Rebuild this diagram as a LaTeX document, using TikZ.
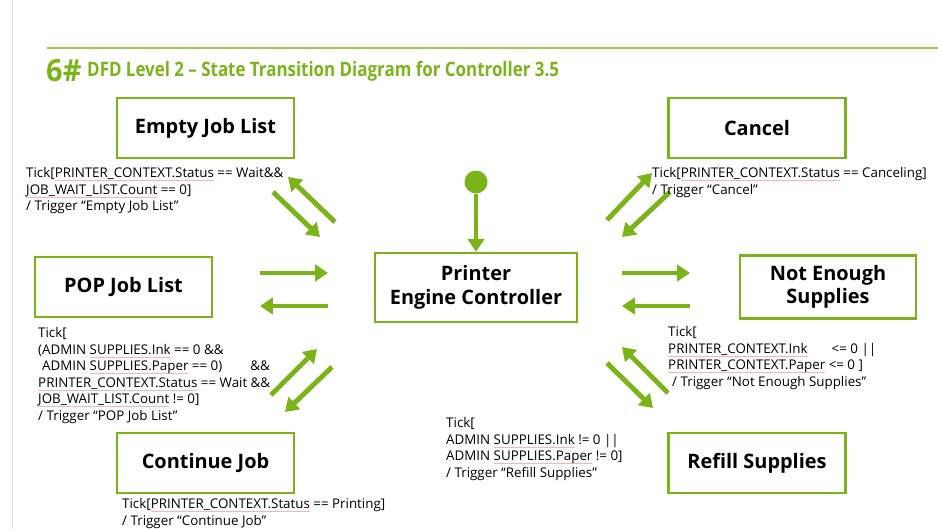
\documentclass[tikz,border=0pt]{standalone}
\usepackage{fontspec}
\setmainfont{Open Sans}[BoldFont={Open Sans Bold}]
\usepackage{graphicx}
\usetikzlibrary{arrows.meta,shapes}
\definecolor{dfdgreen}{RGB}{122,180,24}
% red spell-check line under a word
\newsavebox{\splbox}
\newcommand{\spl}[1]{\sbox{\splbox}{#1}\rlap{\textcolor{red!30}{\rule[-0.42ex]{\wd\splbox}{0.4pt}}}\usebox{\splbox}}

\tikzset{
  statebox/.style={draw=dfdgreen,line width=2pt,fill=white,align=center,
    minimum width=5.31cm,minimum height=1.8cm,font=\fontsize{17}{20}\selectfont\bfseries},
  cond/.style={anchor=north west,inner sep=0pt,align=left,font=\fontsize{11.4}{14.2}\selectfont},
  flow/.style={dfdgreen,line width=4.2pt,-{Triangle[length=11pt,width=14pt]}},
}

\begin{document}
\begin{tikzpicture}[x=0.03cm,y=-0.03cm]
  \useasboundingbox (0,0) rectangle (938,529);

% page frame and title
  \draw[black!12,line width=0.6pt] (12,0) -- (12,529);
  \draw[dfdgreen!75,line width=1.7pt] (47,48) -- (938,48);
  \node[anchor=base west,inner sep=0pt,text=dfdgreen,font=\fontsize{26}{26}\selectfont\bfseries] (num) at (46,81) {\scalebox{0.95}[1]{6\#}};
  \node[anchor=base west,inner sep=0pt,text=dfdgreen,font=\fontsize{17}{17}\selectfont\bfseries] (title) at (87,76)
    {\scalebox{0.85}[1]{DFD Level 2 -- State Transition Diagram for Controller 3.5}};

% states
  \node[statebox] (empty)  at (205.5,128) {Empty Job List};
  \node[statebox] (cancel) at (757,128)   {Cancel};
  \node[statebox] (pop)    at (123.5,287) {POP Job List};
  \node[statebox,minimum width=6.06cm,minimum height=2.07cm] (ctrl) at (476,287.5) {Printer\\Engine Controller};
  \node[statebox,minimum width=5.28cm,minimum height=1.89cm] (notenough) at (828,287) {Not Enough\\Supplies};
  \node[statebox] (cont)   at (205.5,463) {Continue Job};
  \node[statebox] (refill) at (757,463)   {Refill Supplies};

% start point
  \node[circle,fill=dfdgreen,inner sep=0pt,minimum size=0.69cm] (start) at (476,182) {};
  \draw[flow] (start) -- (ctrl);

% arrows: Empty Job List
  \coordinate (ulA) at (335,222); \coordinate (ulB) at (288,177);
  \coordinate (ulC) at (273,192); \coordinate (ulD) at (320,237);
  \draw[flow] (ulA) -- (ulB);
  \draw[flow] (ulC) -- (ulD);

% arrows: POP Job List, Not Enough Supplies
  \foreach \n/\xa/\xb in {l/260/328,r/622/690} {
      \coordinate (\n A) at (\xa,273); \coordinate (\n B) at (\xb,273);
      \coordinate (\n C) at (\xb,306); \coordinate (\n D) at (\xa,306);
      \draw[flow] (\n A) -- (\n B);
      \draw[flow] (\n C) -- (\n D);
  }

% arrows: Continue Job
  \coordinate (llA) at (271,395); \coordinate (llB) at (317,349);
  \coordinate (llC) at (332,367); \coordinate (llD) at (285,412);
  \draw[flow] (llA) -- (llB);
  \draw[flow] (llC) -- (llD);

% arrows: Cancel
  \coordinate (urA) at (607,220); \coordinate (urB) at (652,173);
  \coordinate (urC) at (670,192); \coordinate (urD) at (622,237);
  \draw[flow] (urA) -- (urB);
  \draw[flow] (urC) -- (urD);

% arrows: Refill Supplies
  \coordinate (lrA) at (668,393); \coordinate (lrB) at (622,347);
  \coordinate (lrC) at (607,363); \coordinate (lrD) at (653,408);
  \draw[flow] (lrA) -- (lrB);
  \draw[flow] (lrC) -- (lrD);

% conditions
  \node[cond] (emptyc) at (26,167) {Tick[\spl{PRINTER\_CONTEXT.Status} == Wait\&\&\\
    \spl{JOB\_WAIT\_LIST.Count} == 0]\\
    / Trigger “Empty Job List”};
  \node[cond] (popc) at (38,327) {Tick[\\
    (ADMIN \spl{SUPPLIES.Ink} == 0 \&\&\\
    \hspace*{0.3em}ADMIN \spl{SUPPLIES.Paper} == 0)\hspace{2.1em}\&\&\\
    \spl{PRINTER\_CONTEXT.Status} == Wait \&\&\\
    \spl{JOB\_WAIT\_LIST.Count} != 0]\\
    / Trigger “POP Job List”};
  \node[cond] (contc) at (122,498) {Tick[\spl{PRINTER\_CONTEXT.Status} == Printing]\\
    / Trigger “Continue Job”};
  \node[cond] (cancelc) at (652,167) {Tick[\spl{PRINTER\_CONTEXT.Status} == Canceling]\\
    / Trigger “Cancel”};
  \node[cond] (notenoughc) at (668,326) {Tick[\\
    \spl{PRINTER\_CONTEXT.Ink}\hspace{1.8em}<= 0 ||\\
    \spl{PRINTER\_CONTEXT.Paper} <= 0 ]\\
    \hspace*{0.3em}/ Trigger “Not Enough Supplies”};
  \node[cond] (refillc) at (446,417) {Tick[\\
    ADMIN \spl{SUPPLIES.Ink} != 0 ||\\
    ADMIN \spl{SUPPLIES.Paper} != 0]\\
    / Trigger “Refill Supplies”};

\end{tikzpicture}
\end{document}
